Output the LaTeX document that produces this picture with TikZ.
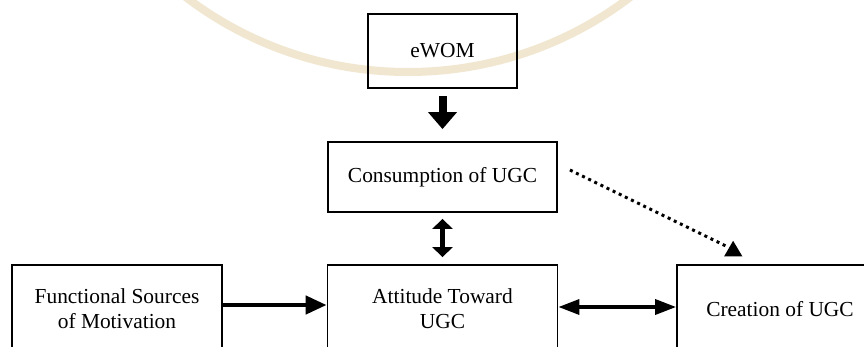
\documentclass[tikz,border=0pt]{standalone}
\usepackage{fontspec}
\setmainfont{Liberation Serif}
\usetikzlibrary{arrows.meta,calc}
\definecolor{wmtan}{RGB}{241,231,208}
\begin{document}
\begin{tikzpicture}[x=1pt,y=-1pt,
  box/.style={draw=black, line width=1.8pt, inner sep=0pt,
    font=\fontsize{21.4}{25}\selectfont, align=center},
  thickarrow/.style={line width=8pt, -{Triangle[length=17pt,width=28pt]}},
  vdouble/.style={line width=5pt, {Triangle[length=10pt,width=20pt]}-{Triangle[length=10pt,width=20pt]}},
  harrow/.style={line width=4.5pt, -{Triangle[length=21pt,width=18pt]}},
  hdouble/.style={line width=3.5pt, {Triangle[length=21pt,width=15pt]}-{Triangle[length=21pt,width=15pt]}},
  dotline/.style={line width=3pt, dash pattern=on 3pt off 3.8pt},
  ]
\useasboundingbox (0,0) rectangle (864,346);
\clip (0,0) rectangle (864,346);
\fill[white] (0,0) rectangle (864,346);
% faint watermark ring
\draw[line width=8pt, color=wmtan] (408,-295) circle[radius=367pt];

\node[box, minimum width=149pt, minimum height=74pt] (ewom) at (442.5,51) {eWOM};
\node[box, minimum width=229pt, minimum height=70pt] (cons) at (442.5,177) {Consumption of UGC};
\node[box, minimum width=210pt, minimum height=88pt] (func) at (117,309) {Functional Sources\\of Motivation};
\node[box, minimum width=230pt, minimum height=88pt] (att) at (442.5,309) {Attitude Toward\\UGC};
\node[box, minimum width=206pt, minimum height=88pt] (cre) at (780,309) {Creation of UGC};

\draw[thickarrow, shorten <=7pt, shorten >=12pt] (ewom) -- (cons);
\draw[vdouble, shorten <=6pt, shorten >=7pt] (cons) -- (att);
\draw[harrow] ($(func.east)+(0,-4)$) -- ($(att.west)+(0,-4)$);
\draw[hdouble] ($(att.east)+(0,-2)$) -- ($(cre.west)+(0,-2)$);

\coordinate (ds) at ($(cons.east)+(12,-7)$);
\coordinate (de) at ($(cre.north west)+(50,-18)$);
\draw[dotline] (ds) -- (de);
\fill ($(de)+(-2,10.3)$) -- ($(de)+(16.3,10.3)$) -- ($(de)+(7,-5.3)$) -- cycle;
\end{tikzpicture}
\end{document}
